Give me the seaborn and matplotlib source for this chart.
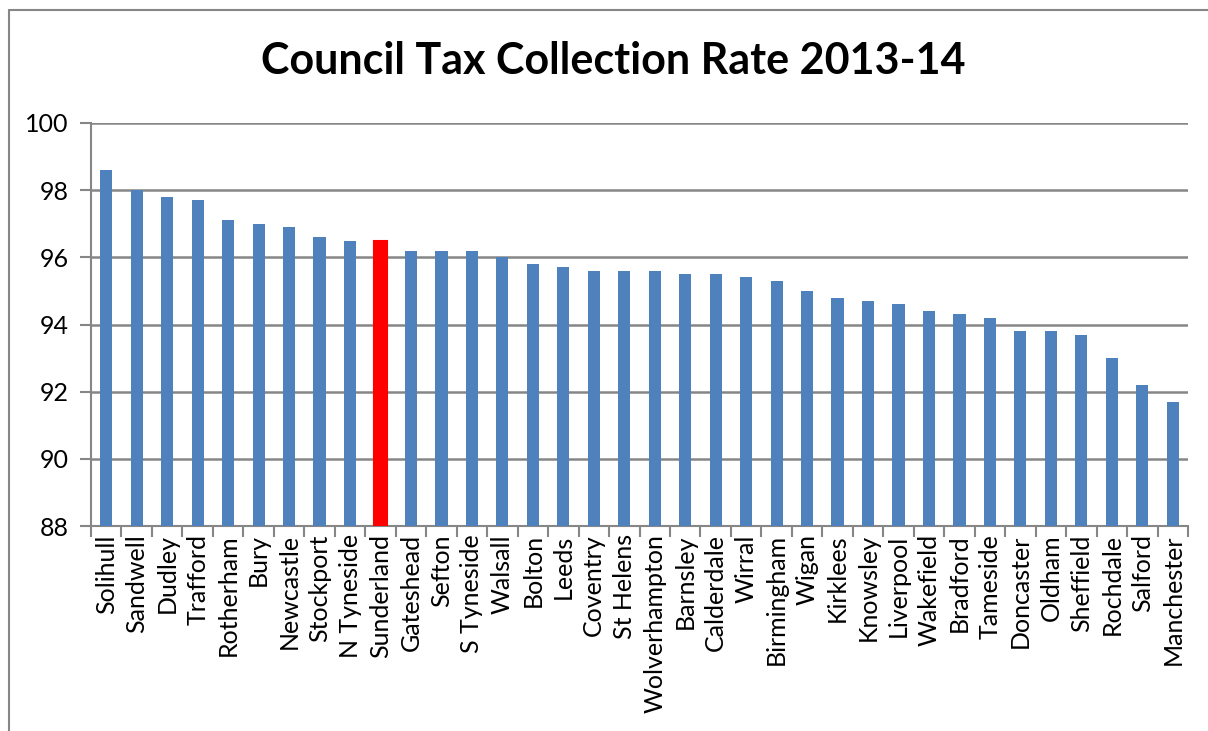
import matplotlib
matplotlib.use("Agg")
import matplotlib.pyplot as plt
from matplotlib.lines import Line2D
from matplotlib.ticker import MultipleLocator, FixedLocator
import numpy as np
import seaborn as sns

councils = ["Solihull", "Sandwell", "Dudley", "Trafford", "Rotherham", "Bury",
            "Newcastle", "Stockport", "N Tyneside", "Sunderland", "Gateshead",
            "Sefton", "S Tyneside", "Walsall", "Bolton", "Leeds", "Coventry",
            "St Helens", "Wolverhampton", "Barnsley", "Calderdale", "Wirral",
            "Birmingham", "Wigan", "Kirklees", "Knowsley", "Liverpool",
            "Wakefield", "Bradford", "Tameside", "Doncaster", "Oldham",
            "Sheffield", "Rochdale", "Salford", "Manchester"]
rates = [98.6, 98.0, 97.8, 97.7, 97.1, 97.0, 96.9, 96.6, 96.5, 96.5, 96.2,
         96.2, 96.2, 96.0, 95.8, 95.7, 95.6, 95.6, 95.6, 95.5, 95.5, 95.4,
         95.3, 95.0, 94.8, 94.7, 94.6, 94.4, 94.3, 94.2, 93.8, 93.8, 93.7,
         93.0, 92.2, 91.7]
highlight = "Sunderland"

BLUE = "#4F81BD"
RED = "#FF0000"
GRID = "#868686"

sns.set_theme(style="white")
plt.rcParams["font.family"] = ["Lato", "DejaVu Sans"]

fig = plt.figure(figsize=(12.08, 7.31), dpi=100)
ax = fig.add_axes([91 / 1208, 1 - 526 / 731, (1188 - 91) / 1208, (526 - 123) / 731])

palette = {c: (RED if c == highlight else BLUE) for c in councils}
sns.barplot(x=councils, y=rates, hue=councils, palette=palette, legend=False,
            width=0.4, saturation=1, ax=ax, zorder=3, edgecolor="none")
for patch, c in zip(ax.patches, councils):
    if c == highlight:
        patch.set_edgecolor(RED)
        patch.set_linewidth(1.5)

ax.set_ylim(88, 100)
ax.set_xlim(-0.5, len(councils) - 0.5)
ax.yaxis.set_major_locator(MultipleLocator(2))
ax.yaxis.grid(True, color=GRID, linewidth=1.8, zorder=0)
ax.set_axisbelow(True)

for side in ("top", "right"):
    ax.spines[side].set_visible(False)
for side in ("left", "bottom"):
    ax.spines[side].set_color(GRID)
    ax.spines[side].set_linewidth(1.5)

ax.tick_params(axis="y", which="major", left=True, length=8, width=1.5,
               color=GRID, labelsize=18, pad=8, labelcolor="black")
ax.xaxis.set_minor_locator(FixedLocator(np.arange(-0.5, len(councils), 1.0)))
ax.tick_params(axis="x", which="major", bottom=False, length=0, labelsize=18,
               labelrotation=90, pad=6, labelcolor="black")
ax.tick_params(axis="x", which="minor", bottom=True, length=8, width=1.5,
               color=GRID)
ax.set_xlabel("")
ax.set_ylabel("")

fig.text(0.508, 0.917, "Council Tax Collection Rate 2013-14", ha="center",
         va="center", fontsize=31, fontweight="bold", color="black")

# chart frame
fx = 8.5 / 1208
fy = 1 - 10 / 731
fig.add_artist(Line2D([fx, fx], [0, fy], transform=fig.transFigure,
                      color=GRID, linewidth=1.5))
fig.add_artist(Line2D([fx, 1], [fy, fy], transform=fig.transFigure,
                      color=GRID, linewidth=1.5))

fig.savefig("out.png", dpi=100)
